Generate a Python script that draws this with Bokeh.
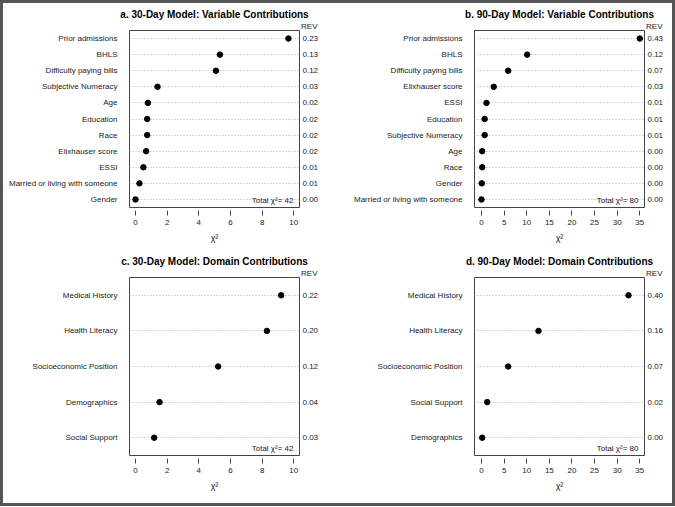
from bokeh.plotting import figure
from bokeh.models import Range1d, FixedTicker, LinearAxis, Label, Title
from bokeh.layouts import gridplot, column
from bokeh.embed import file_html
from bokeh.resources import INLINE

# ---- data ----
cats_a = ["Prior admissions", "BHLS", "Difficulty paying bills", "Subjective Numeracy",
          "Age", "Education", "Race", "Elixhauser score", "ESSI",
          "Married or living with someone", "Gender"]
chi_a = [9.66, 5.33, 5.08, 1.39, 0.78, 0.74, 0.74, 0.67, 0.50, 0.25, 0.0]
rev_a = ["0.23", "0.13", "0.12", "0.03", "0.02", "0.02", "0.02", "0.02", "0.01", "0.01", "0.00"]
total_a = 42

cats_b = ["Prior admissions", "BHLS", "Difficulty paying bills", "Elixhauser score",
          "ESSI", "Education", "Subjective Numeracy", "Age", "Race", "Gender",
          "Married or living with someone"]
chi_b = [35.0, 10.1, 5.9, 2.7, 1.1, 0.7, 0.7, 0.15, 0.15, 0.05, 0.0]
rev_b = ["0.43", "0.12", "0.07", "0.03", "0.01", "0.01", "0.01", "0.00", "0.00", "0.00", "0.00"]
total_b = 80

cats_c = ["Medical History", "Health Literacy", "Socioeconomic Position",
          "Demographics", "Social Support"]
chi_c = [9.2, 8.3, 5.22, 1.52, 1.18]
rev_c = ["0.22", "0.20", "0.12", "0.04", "0.03"]
total_c = 42

cats_d = ["Medical History", "Health Literacy", "Socioeconomic Position",
          "Social Support", "Demographics"]
chi_d = [32.5, 12.6, 5.9, 1.27, 0.15]
rev_d = ["0.40", "0.16", "0.07", "0.02", "0.00"]
total_d = 80

ticks_30 = [0, 2, 4, 6, 8, 10]
ticks_90 = [0, 5, 10, 15, 20, 25, 30, 35]

FONT = "Liberation Sans"
TXT = "#222222"


def make_panel(title, cats, chi, rev, total, xr, ticks, w, h, bl, br, bt, bb):
    n = len(cats)
    ypos = [n - i for i in range(n)]
    p = figure(width=w, height=h, x_range=Range1d(*xr), y_range=Range1d(0.5, n + 0.5),
               output_backend="svg", toolbar_location=None,
               min_border_left=bl, min_border_right=br,
               min_border_top=bt, min_border_bottom=bb,
               background_fill_color="white", border_fill_color="white")
    p.outline_line_color = "#444444"
    p.outline_line_width = 1

    # grid
    p.xgrid.visible = False
    p.ygrid.ticker = FixedTicker(ticks=ypos)
    p.ygrid.grid_line_color = "#b0b0b0"
    p.ygrid.grid_line_dash = "1 2"
    p.ygrid.grid_line_width = 1

    # x axis
    xa = p.xaxis[0]
    xa.ticker = FixedTicker(ticks=ticks)
    xa.axis_line_color = None
    xa.major_tick_in = -3
    xa.major_tick_out = 8
    xa.major_tick_line_color = "#444444"
    xa.minor_tick_line_color = None
    xa.major_label_standoff = 4
    xa.major_label_text_font = FONT
    xa.major_label_text_font_size = "8px"
    xa.major_label_text_color = TXT
    xa.axis_label = "χ²"
    xa.axis_label_text_font = FONT
    xa.axis_label_text_font_size = "9px"
    xa.axis_label_text_font_style = "normal"
    xa.axis_label_text_color = TXT
    xa.axis_label_standoff = 5

    # left axis: category names
    ya = p.yaxis[0]
    ya.ticker = FixedTicker(ticks=ypos)
    ya.major_label_overrides = {y: c for y, c in zip(ypos, cats)}
    ya.axis_line_color = None
    ya.major_tick_line_color = None
    ya.minor_tick_line_color = None
    ya.major_tick_in = 0
    ya.major_tick_out = 0
    ya.major_label_standoff = 12
    ya.major_label_text_font = FONT
    ya.major_label_text_font_size = "8px"
    ya.major_label_text_color = TXT

    # right axis: REV
    ra = LinearAxis(ticker=FixedTicker(ticks=ypos),
                    major_label_overrides={y: r for y, r in zip(ypos, rev)})
    ra.axis_line_color = None
    ra.major_tick_line_color = None
    ra.minor_tick_line_color = None
    ra.major_tick_in = 0
    ra.major_tick_out = 0
    ra.major_label_standoff = 3
    ra.major_label_text_font = FONT
    ra.major_label_text_font_size = "8px"
    ra.major_label_text_color = TXT
    p.add_layout(ra, "right")

    # dots
    p.scatter(x=chi, y=ypos, size=5.5, color="black", marker="circle")

    # REV header (closest to frame), then main title
    p.add_layout(Title(text="REV", align="right", offset=-18, standoff=0,
                       text_font=FONT, text_font_size="8px", text_font_style="normal",
                       text_color=TXT), "above")
    p.add_layout(Title(text=title, align="center", standoff=0,
                       text_font=FONT, text_font_size="10px", text_font_style="bold",
                       text_color="black"), "above")
    # Total chi2
    p.add_layout(Label(x=xr[1], y=0.5, x_offset=-6, y_offset=3,
                       text="Total χ²= %d" % total,
                       text_align="right", text_baseline="bottom",
                       text_font=FONT, text_font_size="8px", text_color=TXT))
    return p


xr30 = (-0.379, 10.36)
xr90 = (-1.55, 36.04)

pa = make_panel("a. 30-Day Model: Variable Contributions", cats_a, chi_a, rev_a, total_a,
                xr30, ticks_30, 334, 247, 126, 38, 27, 43)
pb = make_panel("b. 90-Day Model: Variable Contributions", cats_b, chi_b, rev_b, total_b,
                xr90, ticks_90, 335, 247, 137, 28, 27, 43)
pc = make_panel("c. 30-Day Model: Domain Contributions", cats_c, chi_c, rev_c, total_c,
                xr30, ticks_30, 334, 253, 126, 38, 27, 48)
pd = make_panel("d. 90-Day Model: Domain Contributions", cats_d, chi_d, rev_d, total_d,
                xr90, ticks_90, 335, 253, 137, 28, 27, 48)

grid = gridplot([[pa, pb], [pc, pd]], toolbar_location=None)
grid.styles = {"background-color": "white"}
page = column(grid, styles={"background-color": "#555555", "padding": "3px"})

open("out.html", "w").write(file_html(page, INLINE))
